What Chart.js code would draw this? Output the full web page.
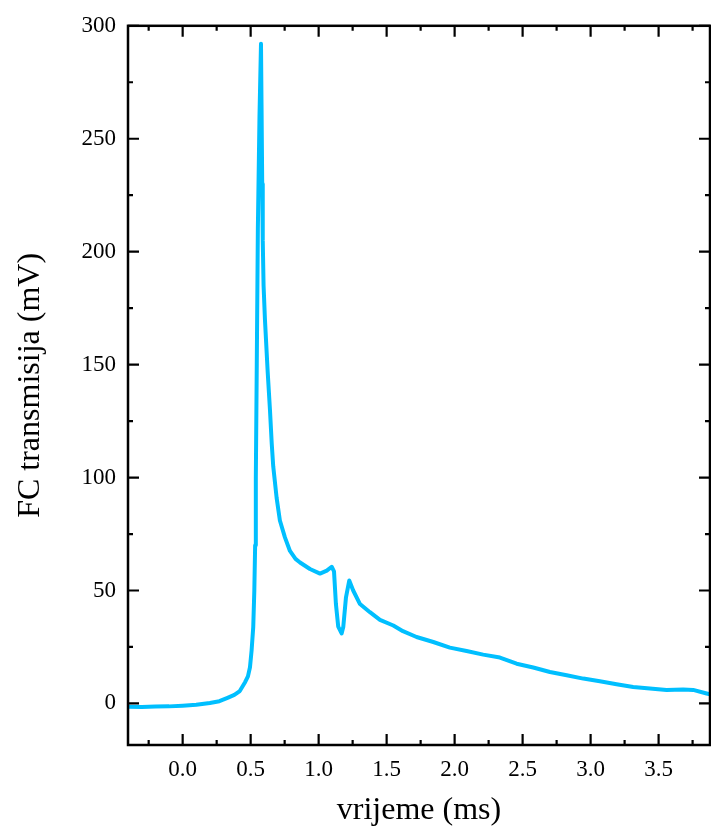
<!DOCTYPE html>
<html>
<head>
<meta charset="utf-8">
<script src="https://cdn.jsdelivr.net/npm/chart.js@4"></script>
<style>
  html, body { margin: 0; padding: 0; background: #fff; overflow: hidden; }
  #wrap { width: 711px; height: 830px; position: relative; }
</style>
</head>
<body>
<div id="wrap"><canvas id="fcChart"></canvas></div>
<script>
// time (ms) and signal (mV)
const timeMs = [
  -0.40, -0.30, -0.20, -0.10, 0.00, 0.10, 0.20, 0.27, 0.33, 0.38, 0.42, 0.46, 0.48, 0.495,
  0.507, 0.519, 0.527, 0.533, 0.538, 0.545, 0.553, 0.565, 0.576, 0.580, 0.585, 0.589,
  0.595, 0.605, 0.625, 0.642, 0.655, 0.666, 0.691, 0.715, 0.752, 0.789, 0.830, 0.863,
  0.936, 1.010, 1.060, 1.096, 1.113, 1.127, 1.144, 1.169, 1.181, 1.201, 1.225, 1.254,
  1.304, 1.377, 1.451, 1.549, 1.620, 1.720, 1.843, 1.965, 2.088, 2.210, 2.333, 2.456,
  2.578, 2.701, 2.824, 2.946, 3.068, 3.191, 3.313, 3.436, 3.559, 3.681, 3.754, 3.853, 3.880
];
const signalMv = [
  -1.5, -1.6, -1.4, -1.3, -1.0, -0.6, 0.2, 1.0, 2.5, 3.8, 5.5, 9.5, 12, 16,
  23.5, 33.8, 50, 70, 100, 150, 210, 260, 292, 265, 230, 205,
  185, 170, 147, 130, 115, 105, 91, 81, 73.5, 67.5, 64, 62.4,
  59.5, 57.5, 58.8, 60.5, 58.5, 44, 34, 31, 33.8, 47, 54.4, 50,
  44, 40.4, 37, 34.5, 32, 29.4, 27.2, 24.7, 23.2, 21.6, 20.3, 17.6,
  15.9, 13.9, 12.5, 11, 9.8, 8.5, 7.3, 6.6, 5.9, 6.2, 6.0, 4.4, 4.0
];

const xTicks = [0.0, 0.5, 1.0, 1.5, 2.0, 2.5, 3.0, 3.5];
const yTicks = [0, 50, 100, 150, 200, 250, 300];
const xMinor = [-0.25, 0.25, 0.75, 1.25, 1.75, 2.25, 2.75, 3.25, 3.75];
const yMinor = [25, 75, 125, 175, 225, 275];

const points = timeMs.map((t, i) => ({ x: t, y: signalMv[i] }));
const serif = "'Liberation Serif', 'DejaVu Serif', serif";

// frame, inward ticks, axis titles
const framePlugin = {
  id: 'frame',
  afterDraw(chart) {
    const ctx = chart.ctx;
    const a = chart.chartArea;
    const xs = chart.scales.x, ys = chart.scales.y;
    ctx.save();
    ctx.strokeStyle = '#000';
    ctx.lineWidth = 2.5;
    ctx.strokeRect(a.left, a.top, a.right - a.left, a.bottom - a.top);
    ctx.lineWidth = 2.2;
    const tickX = (v, len) => {
      const px = xs.getPixelForValue(v);
      if (px < a.left || px > a.right) return;
      ctx.beginPath();
      ctx.moveTo(px, a.bottom); ctx.lineTo(px, a.bottom - len);
      ctx.moveTo(px, a.top); ctx.lineTo(px, a.top + len);
      ctx.stroke();
    };
    const tickY = (v, len) => {
      const py = ys.getPixelForValue(v);
      ctx.beginPath();
      ctx.moveTo(a.left, py); ctx.lineTo(a.left + len, py);
      ctx.moveTo(a.right, py); ctx.lineTo(a.right - len, py);
      ctx.stroke();
    };
    xTicks.forEach(v => tickX(v, 11));
    xMinor.forEach(v => tickX(v, 5));
    yTicks.forEach(v => tickY(v, 11));
    yMinor.forEach(v => tickY(v, 5));

    ctx.fillStyle = '#000';
    ctx.font = '32px ' + serif;
    ctx.textAlign = 'center';
    ctx.textBaseline = 'middle';
    ctx.fillText('vrijeme (ms)', (a.left + a.right) / 2, 811);
    ctx.translate(31, (a.top + a.bottom) / 2);
    ctx.rotate(-Math.PI / 2);
    ctx.fillText('FC transmisija (mV)', 0, 0);
    ctx.restore();
  }
};

const ctx = document.getElementById('fcChart').getContext('2d');
new Chart(ctx, {
  type: 'line',
  data: {
    datasets: [{
      data: points,
      borderColor: '#00BFFF',
      borderWidth: 4,
      borderCapStyle: 'round',
      borderJoinStyle: 'round',
      pointRadius: 0,
      tension: 0
    }]
  },
  plugins: [framePlugin],
  options: {
    responsive: true,
    maintainAspectRatio: false,
    animation: false,
    layout: { padding: { top: 22, right: 1, left: 0, bottom: 0 } },
    plugins: { legend: { display: false }, tooltip: { enabled: false } },
    scales: {
      x: {
        type: 'linear',
        min: -0.402,
        max: 3.878,
        grid: { display: false, drawTicks: false },
        border: { display: false },
        afterFit: s => { s.height = 85; },
        afterBuildTicks: s => { s.ticks = xTicks.map(v => ({ value: v })); },
        ticks: {
          padding: 11,
          color: '#000',
          font: { family: serif, size: 23 },
          maxRotation: 0,
          autoSkip: false,
          callback: v => Number(v).toFixed(1)
        }
      },
      y: {
        min: -18.4,
        max: 300,
        grid: { display: false, drawTicks: false },
        border: { display: false },
        afterFit: s => { s.width = 128; },
        afterBuildTicks: s => { s.ticks = yTicks.map(v => ({ value: v })); },
        ticks: {
          padding: 12,
          color: '#000',
          font: { family: serif, size: 23 },
          autoSkip: false
        }
      }
    }
  }
});
</script>
</body>
</html>
